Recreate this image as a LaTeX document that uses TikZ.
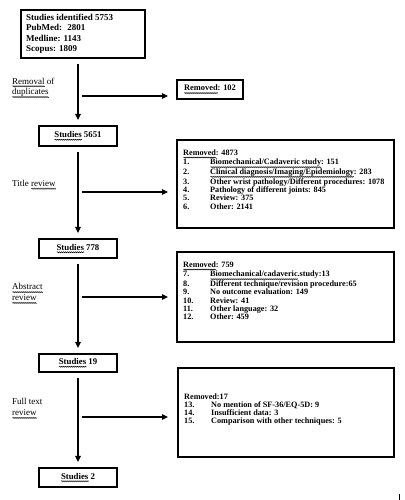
\documentclass[tikz,border=0pt]{standalone}
\usepackage{fontspec}
\setmainfont{Liberation Serif}
\usetikzlibrary{arrows.meta,decorations.pathmorphing}
\newsavebox\squigbox
\newcommand\squig[1]{\sbox\squigbox{#1}\rlap{\raisebox{-2.2pt}{\tikz[x=1pt,y=1pt,baseline=0pt]\draw[line width=0.5pt,decorate,decoration={snake,amplitude=0.55pt,segment length=2pt}] (0,0) -- (\the\wd\squigbox,0);}}\usebox\squigbox}
\begin{document}
\begin{tikzpicture}[x=1pt,y=-1pt,
  box/.style={draw,line width=1.1pt,inner sep=0pt},
  sbox/.style={box,minimum width=78pt,font=\fontsize{8.8}{8.8}\selectfont\bfseries},
  arr/.style={line width=1.5pt,-{Triangle[length=6pt,width=5.5pt]}},
  varr/.style={arr,shorten <=5pt,shorten >=5.5pt},
  listtxt/.style={anchor=north west,inner sep=0pt,align=left,font=\fontsize{8.2}{8.2}\selectfont\bfseries},
  sidetxt/.style={anchor=north west,inner sep=0pt,align=left,font=\fontsize{9}{10.8}\selectfont}]
\useasboundingbox[fill=white] (0,0) rectangle (404,500);

% main column boxes
\node[box,minimum width=124pt,minimum height=48pt] (b1) at (83,34) {};
\node[anchor=north west,inner sep=0pt,align=left,font=\fontsize{9}{10.4}\selectfont\bfseries] (b1t) at (26,13.8)
  {Studies identified 5753\\PubMed:~ 2801\\Medline: 1143\\Scopus: 1809};
\node[sbox,minimum height=20pt] (b2) at (78,136) {\squig{Studies} 5651};
\node[sbox,minimum height=19pt] (b3) at (78,248.5) {\squig{Studies} 778};
\node[sbox,minimum height=18pt] (b4) at (78,363) {\squig{Studies} 19};
\node[sbox,minimum height=19pt] (b5) at (78,477.5) {\squig{Studies} 2};

% removed boxes
\node[box,minimum width=66pt,minimum height=19pt,font=\fontsize{8.4}{8.4}\selectfont\bfseries] (r1) at (210,89.5) {\squig{Removed}: 102};
\node[box,minimum width=217pt,minimum height=88pt] (r2) at (285.5,184) {};
\node[box,minimum width=217pt,minimum height=90pt] (r3) at (285.5,297) {};
\node[box,minimum width=216pt,minimum height=89pt] (r4) at (286,412.5) {};

\node[listtxt] (r2t) at (183,149.4) {\squig{Removed}: 4873\\
  \makebox[27pt][l]{1.}\squig{Biomechanical/Cadaveric study}: 151\\
  \makebox[27pt][l]{2.}\squig{Clinical diagnosis/Imaging/Epidemiology}: 283\\
  \makebox[27pt][l]{3.}Other wrist pathology/Different procedures: 1078\\
  \makebox[27pt][l]{4.}Pathology of different joints: 845\\
  \makebox[27pt][l]{5.}Review: 375\\
  \makebox[27pt][l]{6.}Other: 2141};
\node[listtxt] (r3t) at (183,261.4) {\squig{Removed}: 759\\
  \makebox[27pt][l]{7.}\squig{Biomechanical/cadaveric}.study:13\\
  \makebox[27pt][l]{8.}Different technique/revision procedure:65\\
  \makebox[27pt][l]{9.}No outcome evaluation: 149\\
  \makebox[27pt][l]{10.}Review: 41\\
  \makebox[27pt][l]{11.}Other language: 32\\
  \makebox[27pt][l]{12.}Other: 459};
\node[listtxt] (r4t) at (184,393.4) {Removed:17\\
  \makebox[27pt][l]{13.}No mention of SF-36/EQ-5D: 9\\
  \makebox[27pt][l]{14.}Insufficient data: 3\\
  \makebox[27pt][l]{15.}Comparison with other techniques: 5};

% side labels
\node[sidetxt] (s1) at (12,77.5) {\squig{Removal} of\\\squig{duplicates}};
\node[sidetxt] (s2) at (12,180) {Title \squig{review}};
\node[sidetxt] (s3) at (12,283.5) {\squig{Abstract}\\\squig{review}};
\node[sidetxt] (s4) at (12,398.5) {Full text\\\squig{review}};

% vertical arrows
\draw[varr] (b2.north |- b1.south) -- (b2.north);
\draw[varr] (b2.south) -- (b3.north);
\draw[varr] (b3.south) -- (b4.north);
\draw[varr] (b4.south) -- (b5.north);

% horizontal arrows
\coordinate (h1s) at (82,96);  \coordinate (h1e) at (168,96);
\coordinate (h2s) at (82,192); \coordinate (h2e) at (168,192);
\coordinate (h3s) at (82,297); \coordinate (h3e) at (168,297);
\coordinate (h4s) at (82,417); \coordinate (h4e) at (168,417);
\draw[arr] (h1s) -- (h1e);
\draw[arr] (h2s) -- (h2e);
\draw[arr] (h3s) -- (h3e);
\draw[arr] (h4s) -- (h4e);

% small mark bottom right
\coordinate (m1) at (399,494); \coordinate (m2) at (399,500);
\draw[line width=0.8pt] (m1) -- (m2);
\end{tikzpicture}
\end{document}
